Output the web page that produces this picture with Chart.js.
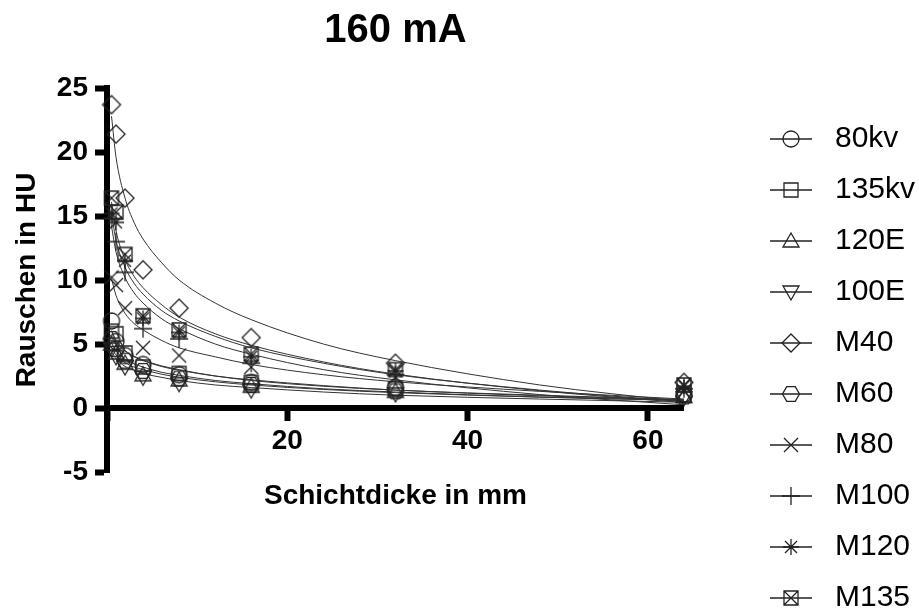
<!DOCTYPE html>
<html>
<head>
<meta charset="utf-8">
<script src="https://cdn.jsdelivr.net/npm/chart.js@4.4.1/dist/chart.umd.min.js"></script>
<style>
  html, body { margin: 0; padding: 0; background: #fff; }
  #out { display: block; }
</style>
</head>
<body>
<canvas id="out" width="919" height="611"></canvas>
<script>
// Schichtdicke in mm
const thickness = [0.5, 1, 2, 4, 8, 16, 32, 64];
const names = ["80kv", "135kv", "120E", "100E", "M40", "M60", "M80", "M100", "M120", "M135"];
const markers = ["circle", "square", "triangle", "triangleDown", "diamond", "hexagon", "cross", "plus", "star", "boxX"];

// Rauschen in HU (measured)
const noise80kv  = [6.8, 5.2, 4.1, 3.4, 2.6, 2.0, 1.6, 1.1];
const noise135kv = [6.0, 5.8, 4.3, 3.2, 2.7, 2.0, 1.5, 1.0];
const noise120E  = [5.0, 4.3, 3.5, 2.6, 2.2, 1.7, 1.3, 0.9];
const noise100E  = [4.6, 4.0, 3.2, 2.4, 1.9, 1.4, 1.1, 0.8];
const noiseM40   = [23.7, 21.4, 16.4, 10.8, 7.8, 5.5, 3.5, 2.0];
const noiseM60   = [5.4, 4.6, 3.7, 2.9, 2.3, 1.8, 1.3, 0.9];
const noiseM80   = [10.2, 9.6, 7.8, 4.7, 4.1, 3.2, 2.4, 1.3];
const noiseM100  = [14.8, 13.0, 10.6, 6.2, 5.4, 3.5, 2.6, 1.5];
const noiseM120  = [15.2, 14.5, 11.5, 7.0, 5.9, 4.0, 2.9, 1.7];
const noiseM135  = [16.4, 15.3, 12.0, 7.2, 6.1, 4.2, 3.0, 1.8];

// fit curves at these thicknesses
const fitX = [0.5, 1, 2, 3, 4, 6, 8, 12, 16, 24, 32, 48, 64];
const fit80kv  = [6.05, 5.3, 4.5, 4.05, 3.75, 3.3, 3.0, 2.5, 2.2, 1.75, 1.4, 1.0, 0.65];
const fit135kv = [6.0, 5.2, 4.45, 4.0, 3.7, 3.25, 2.95, 2.5, 2.15, 1.7, 1.4, 0.95, 0.65];
const fit120E  = [4.75, 4.15, 3.55, 3.2, 3.0, 2.65, 2.4, 2.05, 1.8, 1.45, 1.2, 0.85, 0.6];
const fit100E  = [4.4, 3.85, 3.25, 2.95, 2.7, 2.4, 2.15, 1.8, 1.6, 1.25, 1.0, 0.7, 0.45];
const fitM40   = [22.8, 19.6, 16.4, 14.5, 13.2, 11.4, 10.0, 8.2, 6.9, 5.0, 3.7, 1.8, 0.5];
const fitM60   = [5.1, 4.45, 3.8, 3.45, 3.2, 2.8, 2.55, 2.15, 1.9, 1.5, 1.25, 0.85, 0.6];
const fitM80   = [10.1, 8.8, 7.4, 6.6, 6.1, 5.3, 4.7, 4.0, 3.4, 2.6, 2.05, 1.3, 0.7];
const fitM100  = [14.2, 12.2, 10.2, 9.0, 8.2, 7.0, 6.2, 5.0, 4.2, 3.0, 2.2, 1.05, 0.25];
const fitM120  = [15.2, 13.1, 11.0, 9.75, 8.9, 7.65, 6.8, 5.6, 4.7, 3.5, 2.6, 1.4, 0.5];
const fitM135  = [16.1, 13.85, 11.6, 10.3, 9.4, 8.1, 7.1, 5.8, 4.9, 3.6, 2.65, 1.35, 0.42];

const series = [noise80kv, noise135kv, noise120E, noise100E, noiseM40, noiseM60, noiseM80, noiseM100, noiseM120, noiseM135];
const fits = [fit80kv, fit135kv, fit120E, fit100E, fitM40, fitM60, fitM80, fitM100, fitM120, fitM135];

const FONT = "'Liberation Sans', Arial, Helvetica, sans-serif";
Chart.defaults.font.family = FONT;
Chart.defaults.color = "#000";

function drawMarker(ctx, type, x, y) {
  ctx.beginPath();
  switch (type) {
    case "circle":
      ctx.arc(x, y, 8, 0, Math.PI * 2);
      break;
    case "square":
      ctx.rect(x - 7, y - 7, 14, 14);
      break;
    case "triangle":
      ctx.moveTo(x, y - 8); ctx.lineTo(x + 8, y + 6); ctx.lineTo(x - 8, y + 6); ctx.closePath();
      break;
    case "triangleDown":
      ctx.moveTo(x, y + 8); ctx.lineTo(x + 8, y - 6); ctx.lineTo(x - 8, y - 6); ctx.closePath();
      break;
    case "diamond":
      ctx.moveTo(x, y - 9); ctx.lineTo(x + 9, y); ctx.lineTo(x, y + 9); ctx.lineTo(x - 9, y); ctx.closePath();
      break;
    case "hexagon":
      for (let k = 0; k < 6; k++) {
        const a = k * Math.PI / 3;
        const px = x + 8.5 * Math.cos(a), py = y + 8.5 * Math.sin(a);
        if (k === 0) ctx.moveTo(px, py); else ctx.lineTo(px, py);
      }
      ctx.closePath();
      break;
    case "cross":
      ctx.moveTo(x - 7, y - 7); ctx.lineTo(x + 7, y + 7);
      ctx.moveTo(x + 7, y - 7); ctx.lineTo(x - 7, y + 7);
      break;
    case "plus":
      ctx.moveTo(x, y - 9); ctx.lineTo(x, y + 9);
      ctx.moveTo(x - 9, y); ctx.lineTo(x + 9, y);
      break;
    case "star":
      ctx.moveTo(x, y - 8); ctx.lineTo(x, y + 8);
      ctx.moveTo(x - 8, y); ctx.lineTo(x + 8, y);
      ctx.moveTo(x - 6, y - 6); ctx.lineTo(x + 6, y + 6);
      ctx.moveTo(x + 6, y - 6); ctx.lineTo(x - 6, y + 6);
      break;
    case "boxX":
      ctx.rect(x - 7, y - 7, 14, 14);
      ctx.moveTo(x - 7, y - 7); ctx.lineTo(x + 7, y + 7);
      ctx.moveTo(x + 7, y - 7); ctx.lineTo(x - 7, y + 7);
      break;
  }
  ctx.stroke();
}

function makeIcon(type, w, h, withLine) {
  const c = document.createElement("canvas");
  c.width = w;
  c.height = h;
  const ctx = c.getContext("2d");
  ctx.strokeStyle = "#222";
  ctx.lineWidth = 1.3;
  if (withLine) {
    ctx.beginPath();
    ctx.moveTo(1, h / 2);
    ctx.lineTo(w - 1, h / 2);
    ctx.stroke();
  }
  drawMarker(ctx, type, w / 2, h / 2);
  return c;
}

const pointImgs = markers.map(m => makeIcon(m, 24, 24, false));
const legendIcons = markers.map(m => makeIcon(m, 44, 22, true));

function pairs(xs, ys) {
  return xs.map((x, i) => ({x: x, y: ys[i]}));
}

const datasets = [];
names.forEach((name, i) => {
  datasets.push({
    label: name,
    data: pairs(thickness, series[i]),
    showLine: false,
    pointStyle: pointImgs[i],
    pointRadius: 8,
    pointHoverRadius: 8,
    clip: false
  });
  datasets.push({
    label: name + " Fit",
    data: pairs(fitX, fits[i]),
    borderColor: "#333",
    borderWidth: 1,
    pointRadius: 0,
    cubicInterpolationMode: "monotone",
    fill: false,
    clip: false
  });
});

// put the legend where the reference has it
const legendPlacer = {
  id: "legendPlacer",
  afterLayout(chart) {
    const lg = chart.legend;
    const w = lg.width;
    lg.left = 741;
    lg.right = lg.left + w;
    lg.top = 103;
    lg.bottom = 900;
  }
};

const canvasCtx = document.getElementById("out").getContext("2d");
new Chart(canvasCtx, {
  type: "line",
  data: {datasets: datasets},
  plugins: [legendPlacer],
  options: {
    responsive: false,
    animation: false,
    layout: {padding: {left: 0, right: 51, top: 0, bottom: 0}},
    plugins: {
      title: {
        display: true,
        text: "160 mA",
        fullSize: false,
        font: {size: 40, weight: "bold"},
        color: "#000",
        padding: {top: 7, bottom: 33}
      },
      legend: {
        position: "right",
        align: "start",
        labels: {
          usePointStyle: true,
          pointStyleWidth: 58,
          padding: 21,
          font: {size: 30},
          color: "#000",
          generateLabels: () => names.map((name, i) => ({
            text: name,
            pointStyle: legendIcons[i],
            datasetIndex: i * 2,
            fillStyle: "transparent",
            strokeStyle: "transparent",
            lineWidth: 0,
            hidden: false,
            fontColor: "#000"
          }))
        }
      },
      tooltip: {enabled: false}
    },
    scales: {
      x: {
        type: "linear",
        position: {y: 0},
        min: 0,
        max: 64,
        ticks: {
          stepSize: 20,
          includeBounds: false,
          padding: 6,
          font: {size: 28, weight: "bold"},
          color: "#000",
          callback: v => (v === 0 ? "" : v)
        },
        grid: {drawOnChartArea: false, drawTicks: true, tickLength: 10, tickWidth: 6, tickColor: "#000"},
        border: {display: true, width: 6, color: "#000"},
        title: {
          display: true,
          text: "Schichtdicke in mm",
          font: {size: 28, weight: "bold"},
          color: "#000",
          padding: {top: 16, bottom: 0}
        }
      },
      xpad: {
        type: "linear",
        axis: "x",
        position: "bottom",
        display: true,
        ticks: {display: false},
        grid: {display: false},
        border: {display: false},
        afterFit: s => { s.height = 139; }
      },
      y: {
        type: "linear",
        position: "left",
        min: -5,
        max: 25,
        ticks: {
          stepSize: 5,
          padding: 7,
          font: {size: 28, weight: "bold"},
          color: "#000"
        },
        grid: {drawOnChartArea: false, drawTicks: true, tickLength: 12, tickWidth: 6, tickColor: "#000"},
        border: {display: true, width: 6, color: "#000"},
        title: {
          display: true,
          text: "Rauschen in HU",
          font: {size: 28, weight: "bold"},
          color: "#000",
          padding: {top: 10, bottom: 0}
        },
        afterFit: s => { s.width = 107; }
      }
    }
  }
});
</script>
</body>
</html>
